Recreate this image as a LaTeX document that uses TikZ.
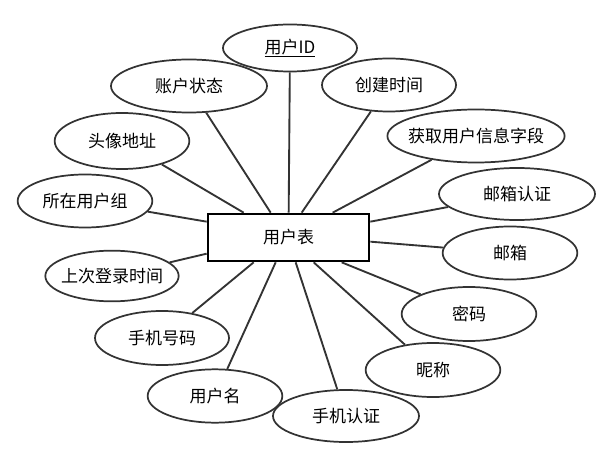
\documentclass[tikz,border=0pt]{standalone}
\usepackage{fontspec}
\newfontfamily\cjk{Noto Sans CJK SC}
\usetikzlibrary{shapes.geometric,calc}
\tikzset{
  attr/.style={draw=black!80, line width=1.3pt, ellipse, inner sep=0pt,
    minimum width=100.5pt, minimum height=39.75pt},
  entity/.style={draw=black, line width=2pt, rectangle, inner sep=0pt,
    minimum width=120.75pt, minimum height=35.25pt},
  link/.style={draw=black!80, line width=1.4pt}
}
\begin{document}
\begin{tikzpicture}[x=0.75pt,y=-0.75pt,font=\cjk\fontsize{12.75}{15}\selectfont]
  \useasboundingbox (0,0) rectangle (609,459);
  % Entite
  \node[entity] (tbl) at (288.5,237.5) {用户表};
  % Attributs
  \node[attr, minimum height=35.25pt] (uid) at (290,48) {\underline{用户ID}};
  \node[attr, minimum width=117pt] (acct) at (189,86) {账户状态};
  \node[attr] (ctime) at (389,85) {创建时间};
  \node[attr, minimum width=132.75pt, inner xsep=-4pt] (fetch) at (476,136)
    {获取用户信息字段};
  \node[attr, minimum width=101pt, minimum height=42pt] (avatar) at (122,141)
    {头像地址};
  \node[attr, minimum width=101pt] (group) at (85,201) {所在用户组};
  \node[attr, minimum width=117pt, minimum height=39pt] (emailv) at (517,194)
    {邮箱认证};
  \node[attr, minimum width=101pt] (email) at (510,253) {邮箱};
  \node[attr, minimum width=100pt, minimum height=38pt, inner xsep=-3pt]
    (lastlogin) at (112,276) {上次登录时间};
  \node[attr, minimum width=101pt, minimum height=40.5pt] (pwd) at (469,314)
    {密码};
  \node[attr, minimum height=40.5pt] (phone) at (162,338) {手机号码};
  \node[attr, minimum width=101pt, minimum height=40.5pt] (nick) at (433,370)
    {昵称};
  \node[attr, minimum width=101pt, minimum height=40pt] (uname) at (215,396)
    {用户名};
  \node[attr, minimum width=109.5pt, minimum height=39pt] (phonev) at (346,416)
    {手机认证};
  % Liens
  \draw[link] (avatar) -- ($(tbl.north west)+(37,0)$);
  \draw[link] (acct) -- ($(tbl.north west)+(64,0)$);
  \draw[link] (uid) -- ($(tbl.north west)+(82,0)$);
  \draw[link] (ctime) -- ($(tbl.north west)+(95,0)$);
  \draw[link] (fetch) -- ($(tbl.north west)+(126,0)$);
  \draw[link] (emailv) -- ($(tbl.north east)+(0,9)$);
  \draw[link] (email) -- ($(tbl.north east)+(0,29)$);
  \draw[link] (group) -- ($(tbl.north west)+(0,9)$);
  \draw[link] (lastlogin) -- ($(tbl.north west)+(0,41)$);
  \draw[link] (phone) -- ($(tbl.south west)+(47,0)$);
  \draw[link] (uname) -- ($(tbl.south west)+(69,0)$);
  \draw[link] (phonev) -- ($(tbl.south west)+(89,0)$);
  \draw[link] (nick) -- ($(tbl.south west)+(107,0)$);
  \draw[link] (pwd) -- ($(tbl.south west)+(135,0)$);
\end{tikzpicture}
\end{document}
